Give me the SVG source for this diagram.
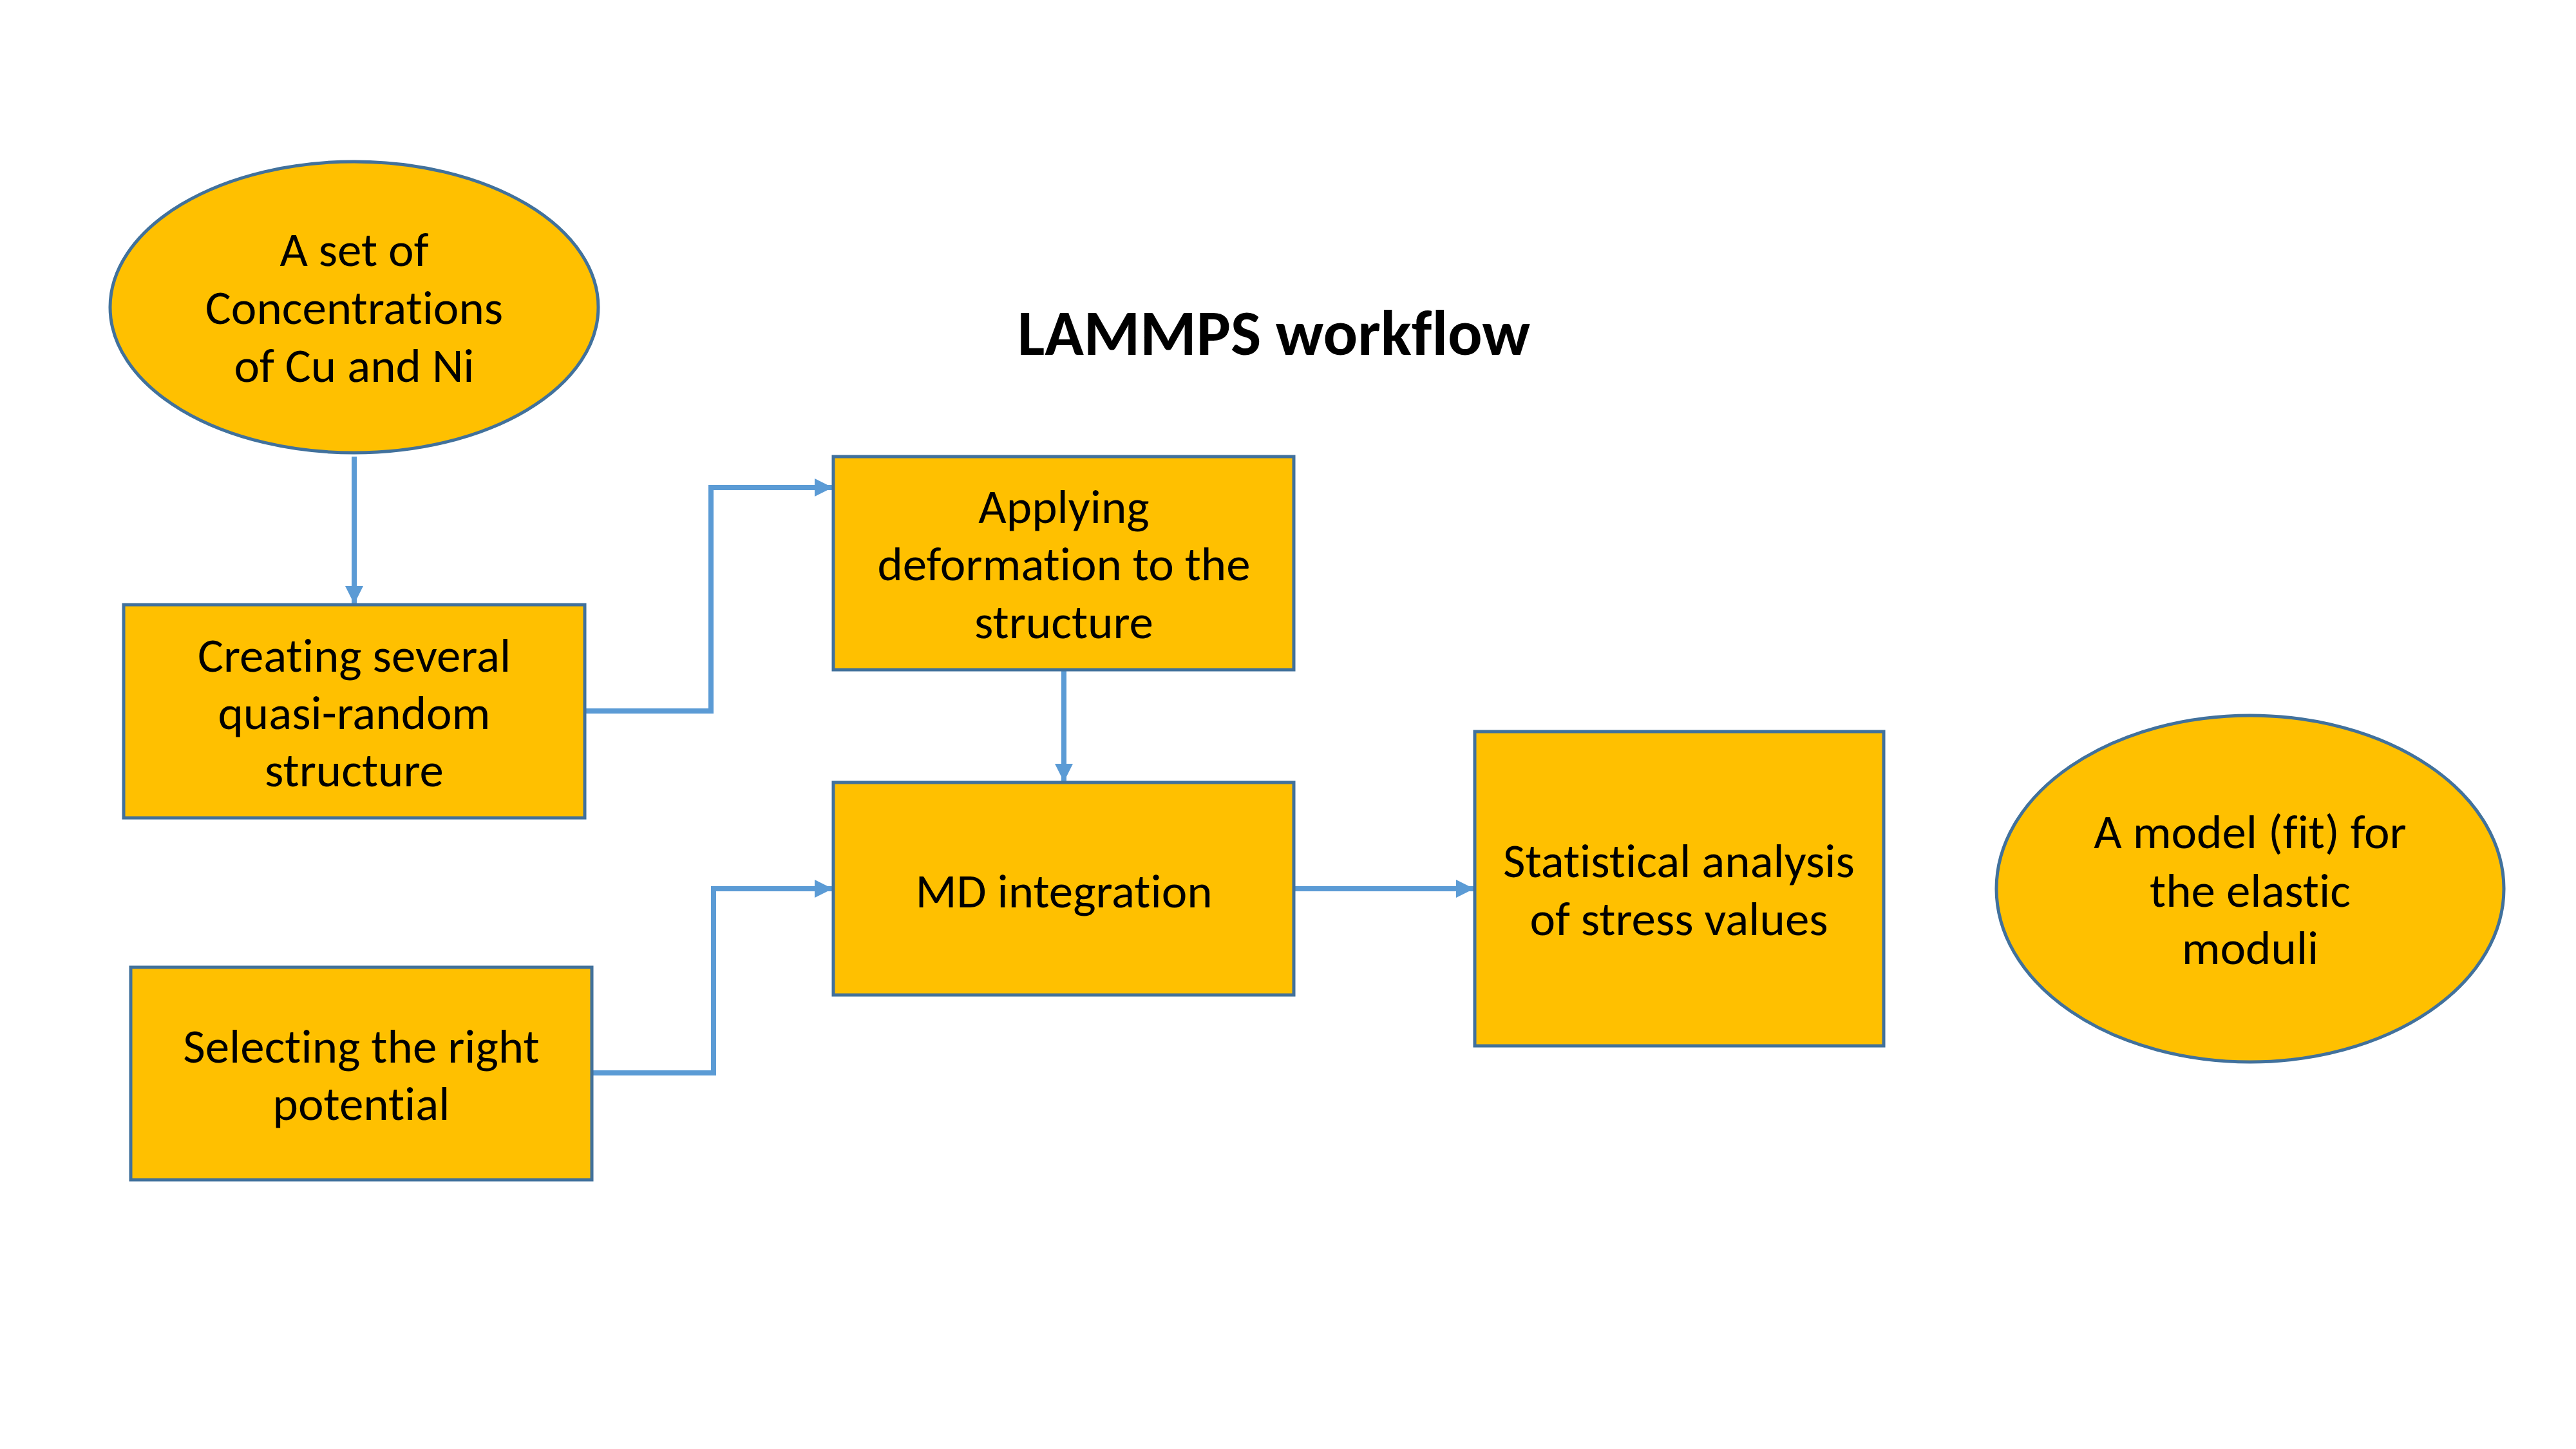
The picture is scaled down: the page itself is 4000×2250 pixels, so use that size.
<svg xmlns="http://www.w3.org/2000/svg" width="4000" height="2250" viewBox="0 0 4000 2250">
<style>
.node{fill:#FFC000;stroke:#41719C;stroke-width:5}
.lbl{font-family:Carlito,Calibri,Lato,"Liberation Sans",sans-serif;font-size:75px;fill:#000;text-anchor:middle;font-variant-ligatures:none}
.title{font-family:Carlito,Calibri,Lato,"Liberation Sans",sans-serif;font-size:100px;font-weight:bold;fill:#000;text-anchor:middle;font-variant-ligatures:none}
.conn{fill:none;stroke:#5B9BD5;stroke-width:8;marker-end:url(#arr)}
</style>
<defs>
<marker id="arr" markerUnits="userSpaceOnUse" markerWidth="28" markerHeight="28" viewBox="0 0 28 28" refX="27" refY="14" orient="auto">
<path d="M0,0 L28,14 L0,28 Z" fill="#5B9BD5"/>
</marker>
</defs>
<rect width="4000" height="2250" fill="#fff"/>
<text class="title" x="1978" y="551">LAMMPS workflow</text>
<g id="connectors">
<path class="conn" d="M550,709 L550,937"/>
<path class="conn" d="M910,1104 L1104,1104 L1104,757 L1292,757"/>
<path class="conn" d="M1652,1041 L1652,1213"/>
<path class="conn" d="M920,1666 L1108,1666 L1108,1380 L1292,1380"/>
<path class="conn" d="M2010,1380 L2288,1380"/>
</g>
<g id="n1">
<ellipse class="node" cx="550" cy="477" rx="379" ry="226"/>
<text class="lbl" x="550" y="413">A set of</text>
<text class="lbl" x="550" y="503">Concentrations</text>
<text class="lbl" x="550" y="593">of Cu and Ni</text>
</g>
<g id="n2">
<rect class="node" x="192" y="939" width="716" height="331"/>
<text class="lbl" x="550" y="1043">Creating several</text>
<text class="lbl" x="550" y="1132">quasi-random</text>
<text class="lbl" x="550" y="1221">structure</text>
</g>
<g id="n3">
<rect class="node" x="1294" y="709" width="715" height="331"/>
<text class="lbl" x="1652" y="812">Applying</text>
<text class="lbl" x="1652" y="901">deformation to the</text>
<text class="lbl" x="1652" y="991">structure</text>
</g>
<g id="n4">
<rect class="node" x="1294" y="1215" width="715" height="330"/>
<text class="lbl" x="1652" y="1409">MD integration</text>
</g>
<g id="n5">
<rect class="node" x="203" y="1502" width="716" height="330"/>
<text class="lbl" x="561" y="1650">Selecting the right</text>
<text class="lbl" x="561" y="1739">potential</text>
</g>
<g id="n6">
<rect class="node" x="2290" y="1136" width="635" height="488"/>
<text class="lbl" x="2607" y="1362">Statistical analysis</text>
<text class="lbl" x="2607" y="1452">of stress values</text>
</g>
<g id="n7">
<ellipse class="node" cx="3494" cy="1380" rx="394" ry="269"/>
<text class="lbl" x="3494" y="1317">A model (fit) for</text>
<text class="lbl" x="3494" y="1408">the elastic</text>
<text class="lbl" x="3494" y="1497">moduli</text>
</g>
</svg>
